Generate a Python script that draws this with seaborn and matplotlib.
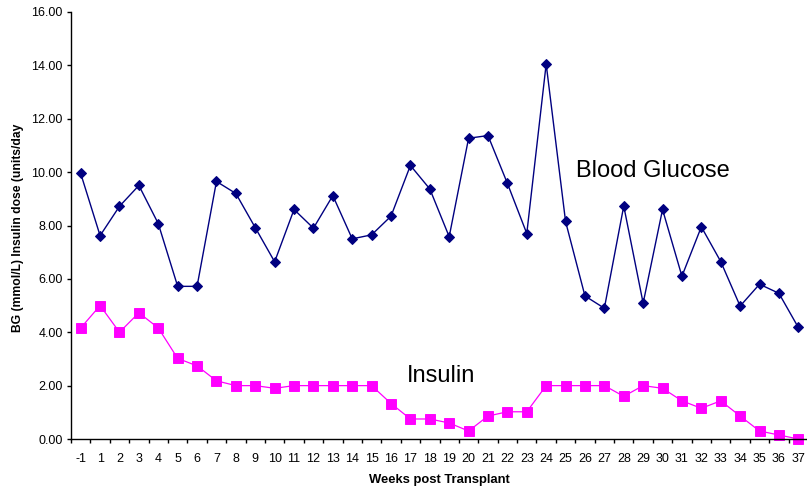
import matplotlib
matplotlib.use("Agg")
import matplotlib.pyplot as plt
from matplotlib.ticker import FixedLocator, FormatStrFormatter
import numpy as np
import pandas as pd
import seaborn as sns

# Weeks relative to transplant (category axis)
weeks = ["-1", "1", "2", "3", "4", "5", "6", "7", "8", "9", "10", "11", "12",
         "13", "14", "15", "16", "17", "18", "19", "20", "21", "22", "23", "24",
         "25", "26", "27", "28", "29", "30", "31", "32", "33", "34", "35", "36",
         "37"]

# Weekly mean blood glucose (mmol/L)
blood_glucose = [9.95, 7.62, 8.72, 9.50, 8.07, 5.72, 5.72, 9.65, 9.20, 7.92,
                 6.64, 8.60, 7.90, 9.12, 7.50, 7.65, 8.35, 10.25, 9.37, 7.58,
                 11.27, 11.37, 9.58, 7.70, 14.05, 8.15, 5.36, 4.90, 8.73, 5.09,
                 8.60, 6.10, 7.95, 6.65, 4.98, 5.80, 5.46, 4.18]

# Weekly insulin dose (units/day)
insulin = [4.16, 5.00, 4.00, 4.73, 4.16, 3.02, 2.74, 2.18, 2.00, 2.00,
           1.90, 2.00, 2.00, 2.00, 2.00, 2.00, 1.33, 0.75, 0.75, 0.60,
           0.30, 0.86, 1.02, 1.02, 2.00, 2.00, 2.00, 2.00, 1.60, 2.00,
           1.90, 1.43, 1.15, 1.43, 0.86, 0.30, 0.15, 0.00]

y_ticks = [0, 2, 4, 6, 8, 10, 12, 14, 16]

df = pd.DataFrame({"week": weeks, "bg": blood_glucose, "insulin": insulin})

sns.set_theme(style="ticks")
plt.rcParams["font.family"] = ["Liberation Sans", "DejaVu Sans"]
plt.rcParams["text.color"] = "black"
plt.rcParams["axes.labelcolor"] = "black"

W, H = 807, 488
fig = plt.figure(figsize=(W / 100, H / 100), dpi=100)
ax = fig.add_axes([71 / W, (H - 439) / H, 737 / W, 427 / H])

navy = "#000080"
magenta = "#FF00FF"

sns.pointplot(data=df, x="week", y="bg", order=weeks, color=navy,
              markers="D", errorbar=None, ax=ax,
              markersize=5.3, linewidth=1.0,
              markeredgecolor=navy, markerfacecolor=navy)
sns.pointplot(data=df, x="week", y="insulin", order=weeks, color=magenta,
              markers="s", errorbar=None, ax=ax,
              markersize=7.0, linewidth=0.9,
              markeredgecolor=magenta, markerfacecolor=magenta)

for ln in ax.lines:
    ln.set_clip_on(False)

ax.set_xlim(-0.5, len(weeks) - 0.5)
ax.set_ylim(0, 16)
ax.set_yticks(y_ticks)
ax.yaxis.set_major_formatter(FormatStrFormatter("%.2f"))

# category labels centred, tick marks on category boundaries
ax.set_xticks(range(len(weeks)))
ax.set_xticklabels(weeks)
ax.xaxis.set_minor_locator(FixedLocator(np.arange(-0.5, len(weeks), 1.0)))
ax.tick_params(axis="x", which="major", length=0, pad=10,
               labelsize=9, colors="black")
ax.tick_params(axis="x", which="minor", length=3, width=1.0,
               direction="out", color="black")
ax.tick_params(axis="y", which="major", length=3, width=1.0,
               direction="out", pad=3, labelsize=9, colors="black")

sns.despine(ax=ax)
for side in ("left", "bottom"):
    ax.spines[side].set_color("black")
    ax.spines[side].set_linewidth(1.0)
ax.grid(False)
ax.set_facecolor("white")

ax.set_xlabel("Weeks post Transplant", fontsize=9.4, fontweight="bold",
              color="black")
ax.set_ylabel("BG (mmol/L) Insulin dose (units/day", fontsize=8.7,
              fontweight="bold", color="black")
ax.xaxis.set_label_coords(0.5, -0.082)
ax.yaxis.set_label_coords(-0.064, 0.494)

ax.text(25.52, 9.82, "Blood Glucose", fontsize=17, ha="left",
        va="baseline", color="black")
ax.text(16.8, 2.12, "Insulin", fontsize=17, ha="left",
        va="baseline", color="black")

fig.savefig("out.png", dpi=100)
